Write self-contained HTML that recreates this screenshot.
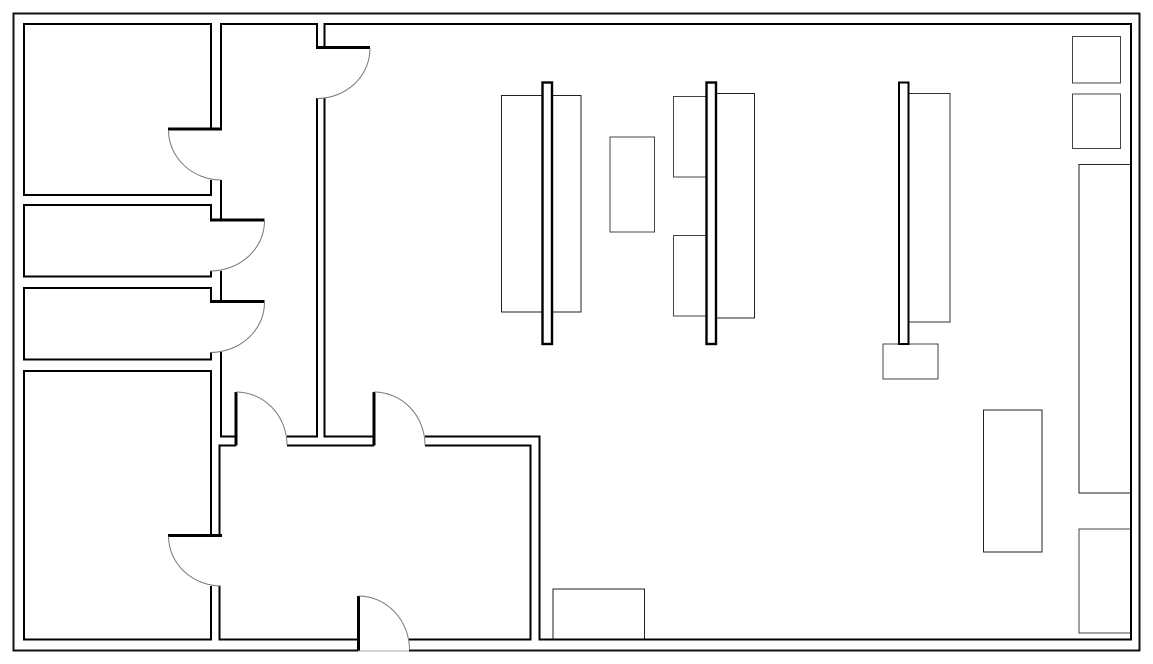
<!DOCTYPE html>
<html>
<head>
<meta charset="utf-8">
<style>
html,body{margin:0;padding:0;background:#fff}
svg{display:block}
</style>
</head>
<body>
<svg xmlns="http://www.w3.org/2000/svg" width="1153" height="664" viewBox="0 0 1153 664">
<rect width="1153" height="664" fill="#fff"/>
<!-- furniture -->
<g fill="#fff" stroke="#222" stroke-width="1">
<rect x="501.5" y="95.5" width="79.5" height="216.5"/>
<rect x="610" y="137" width="44.5" height="95" stroke="#444"/>
<rect x="673.5" y="96.5" width="40" height="80.5" stroke="#444"/>
<rect x="673.5" y="235.5" width="40" height="80.5" stroke="#444"/>
<rect x="710" y="93.5" width="44.5" height="224.5"/>
<rect x="905" y="93.5" width="45" height="228.5" stroke="#333"/>
<rect x="883" y="344" width="55" height="35" stroke="#444"/>
<rect x="983.5" y="410" width="58.5" height="142"/>
<rect x="1079" y="164.5" width="52" height="328.5"/>
<rect x="1079" y="529" width="52" height="104" stroke="#444"/>
<rect x="1072.5" y="36.5" width="48" height="46.5" stroke="#444"/>
<rect x="1072.5" y="94" width="48" height="54.5" stroke="#444"/>
<rect x="553" y="589" width="91.5" height="50"/>
</g>
<!-- pillars -->
<g fill="#fff" stroke="#000" stroke-width="2.4">
<rect x="542.5" y="82.5" width="9.5" height="261.5"/>
<rect x="706.5" y="82.5" width="9.5" height="261.5"/>
<rect x="899" y="82.5" width="9.5" height="261.5" stroke-width="2"/>
</g>
<!-- walls -->
<g fill="none" stroke="#000" stroke-width="2">
<path d="M358 650.5H13.5V13.5H1139.5V650.5H409" stroke="#111"/>
<!-- top inner and rooms -->
<path d="M317 47V24H221V129"/>
<path d="M324.5 47V24H1131V639.5H539.5V436.5H425"/>
<path d="M211 129V24H24V195H211V180"/>
<path d="M221 180V220"/>
<path d="M211 220V205H24V276.5H211V271"/>
<path d="M221 271V301"/>
<path d="M211 301V288H24V359.5H211V352"/>
<path d="M221 352V436.5H236"/>
<path d="M211 535V371H24V639.5H211V586"/>
<path d="M219.5 535V445.5H236"/>
<path d="M219.5 586V639.5H358"/>
<path d="M287 436.5H317V98"/>
<path d="M324.5 98V436.5H374"/>
<path d="M287 445.5H374"/>
<path d="M425 445.5H530.5V639.5H409"/>
</g>
<!-- door leaves -->
<g fill="none" stroke="#000" stroke-width="3">
<path d="M316 47.5H370"/>
<path d="M168 129H222"/>
<path d="M210 220H264.5"/>
<path d="M210 301.5H264.5"/>
<path d="M168 535.5H222"/>
<path d="M236 392V445.5"/>
<path d="M374 392V445.5"/>
<path d="M358.5 596V651"/>
</g>
<!-- door arcs -->
<g fill="none" stroke="#777" stroke-width="1">
<path d="M370 48.5A53 50 0 0 1 317 98.5"/>
<path d="M168.5 130A53 50 0 0 0 221 180"/>
<path d="M264.5 221A54.5 50 0 0 1 210 271"/>
<path d="M264.5 302.5A54.5 50 0 0 1 210 352.5"/>
<path d="M168.5 536.5A53 50 0 0 0 221 586"/>
<path d="M236 392A51 53 0 0 1 287 445"/>
<path d="M374 392A51 53 0 0 1 425 445"/>
<path d="M358.5 596A51 54 0 0 1 409.5 650"/>
<path d="M358 651H409" stroke="#aaa"/>
</g>
</svg>
</body>
</html>
